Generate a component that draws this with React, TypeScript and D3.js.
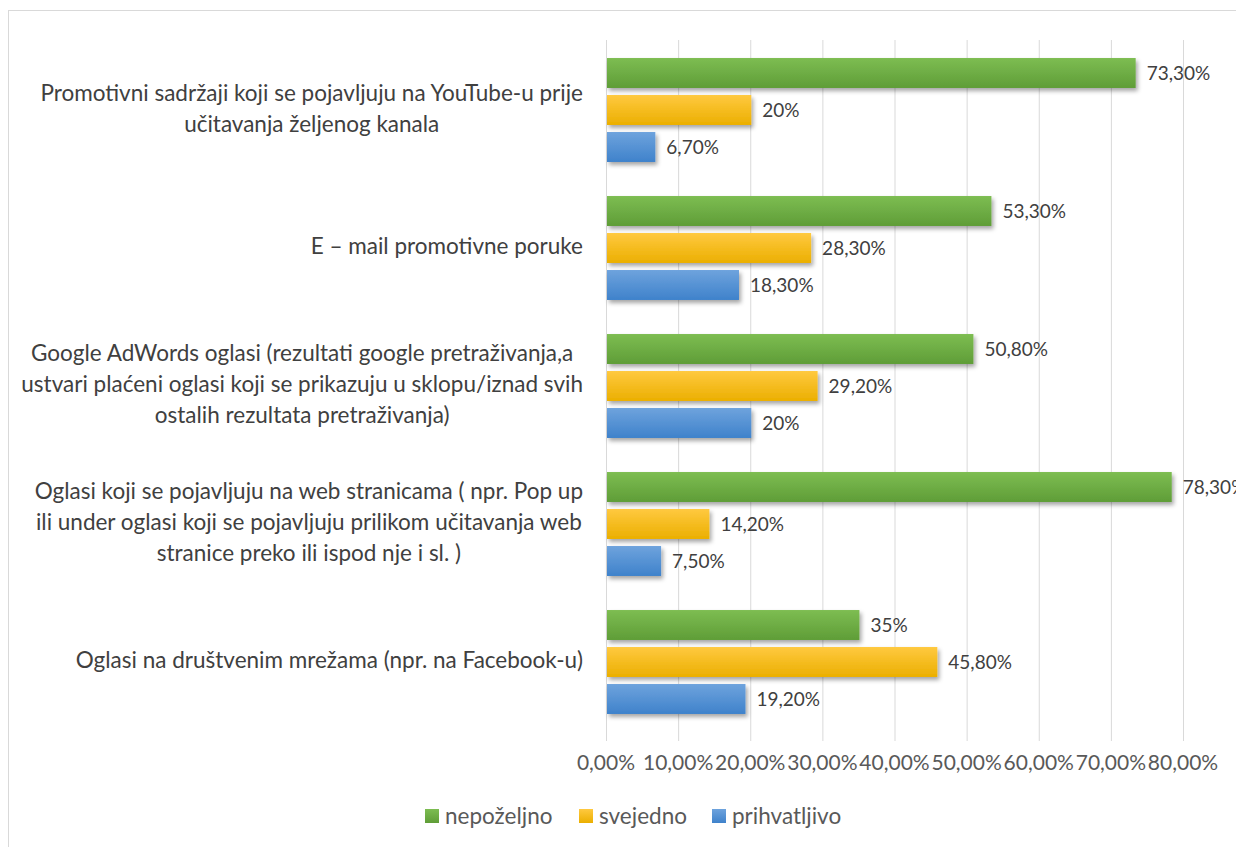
import { useEffect, useRef } from 'react';
import * as d3 from 'd3';

const categories: string[][] = [
  ['Promotivni sadržaji koji se pojavljuju na YouTube-u prije', 'učitavanja željenog kanala'],
  ['E – mail promotivne poruke'],
  [
    'Google AdWords oglasi (rezultati google pretraživanja,a',
    'ustvari plaćeni oglasi koji se prikazuju u sklopu/iznad svih',
    'ostalih rezultata pretraživanja)',
  ],
  [
    'Oglasi koji se pojavljuju na web stranicama ( npr. Pop up',
    'ili under oglasi koji se pojavljuju prilikom učitavanja web',
    'stranice preko ili ispod nje i sl. )',
  ],
  ['Oglasi na društvenim mrežama (npr. na Facebook-u)'],
];

const seriesNames = ['nepoželjno', 'svejedno', 'prihvatljivo'];
const nepozeljno = [73.3, 53.3, 50.8, 78.3, 35];
const svejedno = [20, 28.3, 29.2, 14.2, 45.8];
const prihvatljivo = [6.7, 18.3, 20, 7.5, 19.2];
const ticks = [0, 10, 20, 30, 40, 50, 60, 70, 80];

const seriesValues = [nepozeljno, svejedno, prihvatljivo];
const colors = [
  { top: '#7dbd52', bottom: '#5f9d37' },
  { top: '#ffc940', bottom: '#ebaf00' },
  { top: '#6ea3dd', bottom: '#3f82cb' },
];

const fmt = (v: number) => (Number.isInteger(v) ? `${v}%` : `${v.toFixed(2).replace('.', ',')}%`);
const tickFmt = (v: number) => `${v.toFixed(2).replace('.', ',')}%`;

const FONT = 'Lato, "Open Sans", sans-serif';

export default function App() {
  const svgRef = useRef<SVGSVGElement>(null);

  useEffect(() => {
    if (!svgRef.current) return;
    const svg = d3.select(svgRef.current);
    svg.selectAll('*').remove();

    const W = 1236;
    const H = 847;
    const plot = { left: 606, right: 1183, top: 41, bottom: 731 };

    const x = d3.scaleLinear().domain([0, 80]).range([plot.left, plot.right]);
    const y0 = d3
      .scaleBand<number>()
      .domain(d3.range(categories.length))
      .range([plot.top, plot.bottom]);
    const y1 = d3
      .scaleBand<number>()
      .domain(d3.range(seriesNames.length))
      .range([0, y0.bandwidth()])
      .paddingInner(0.19)
      .paddingOuter(0.46);

    const defs = svg.append('defs');
    colors.forEach((c, i) => {
      const lg = defs
        .append('linearGradient')
        .attr('id', `grad${i}`)
        .attr('x1', 0)
        .attr('y1', 0)
        .attr('x2', 0)
        .attr('y2', 1);
      lg.append('stop').attr('offset', '0%').attr('stop-color', c.top);
      lg.append('stop').attr('offset', '100%').attr('stop-color', c.bottom);
    });
    defs
      .append('filter')
      .attr('id', 'shadow')
      .attr('x', '-10%')
      .attr('y', '-30%')
      .attr('width', '130%')
      .attr('height', '180%')
      .append('feDropShadow')
      .attr('dx', 2)
      .attr('dy', 3)
      .attr('stdDeviation', 2)
      .attr('flood-color', '#000')
      .attr('flood-opacity', 0.35);

    svg.attr('width', W).attr('height', H);

    // chart frame
    svg
      .append('rect')
      .attr('x', 8.5)
      .attr('y', 10.5)
      .attr('width', W)
      .attr('height', H)
      .attr('fill', '#fff')
      .attr('stroke', '#d9d9d9');

    // Grid lines
    svg
      .append('g')
      .selectAll('line')
      .data(ticks)
      .enter()
      .append('line')
      .attr('x1', (d) => x(d) + 0.5)
      .attr('x2', (d) => x(d) + 0.5)
      .attr('y1', 40)
      .attr('y2', 741)
      .attr('stroke', '#d9d9d9')
      .attr('stroke-width', 1);

    // Bars
    seriesValues.forEach((vals, si) => {
      const g = svg.append('g').attr('filter', 'url(#shadow)');
      g.selectAll('rect')
        .data(vals)
        .enter()
        .append('rect')
        .attr('x', x(0) + 1)
        .attr('y', (_, i) => (y0(i) || 0) + (y1(si) || 0))
        .attr('width', (d) => x(d) - x(0))
        .attr('height', y1.bandwidth())
        .attr('fill', `url(#grad${si})`);

      svg
        .append('g')
        .selectAll('text')
        .data(vals)
        .enter()
        .append('text')
        .attr('x', (d) => x(d) + 12)
        .attr('y', (_, i) => (y0(i) || 0) + (y1(si) || 0) + y1.bandwidth() / 2)
        .attr('dy', '0.36em')
        .attr('fill', '#404040')
        .attr('font-family', FONT)
        .attr('font-size', '19px')
        .text((d) => fmt(d));
    });

    // Category labels: lines centred within a block right-aligned to the axis
    const labelRight = 583;
    const lineH = 31;
    categories.forEach((lines, i) => {
      const cy = (y0(i) || 0) + y0.bandwidth() / 2 - 2;
      const t = svg
        .append('g')
        .selectAll('text')
        .data(lines)
        .enter()
        .append('text')
        .attr('y', (_, li) => cy + (li - (lines.length - 1) / 2) * lineH)
        .attr('dy', '0.36em')
        .attr('text-anchor', 'middle')
        .attr('fill', '#404040')
        .attr('font-family', FONT)
        .attr('font-size', '22.5px')
        .text((d) => d);
      let maxW = 0;
      t.each(function () {
        maxW = Math.max(maxW, (this as SVGTextElement).getComputedTextLength());
      });
      t.attr('x', labelRight - maxW / 2);
    });

    // X axis tick labels
    svg
      .append('g')
      .selectAll('text')
      .data(ticks)
      .enter()
      .append('text')
      .attr('x', (d) => x(d))
      .attr('y', 762)
      .attr('dy', '0.36em')
      .attr('text-anchor', 'middle')
      .attr('fill', '#595959')
      .attr('font-family', FONT)
      .attr('font-size', '21px')
      .text((d) => tickFmt(d));

    // Legend
    const legendX = [425, 579, 712];
    const lg = svg.append('g');
    seriesNames.forEach((name, i) => {
      lg.append('rect')
        .attr('x', legendX[i])
        .attr('y', 809)
        .attr('width', 14)
        .attr('height', 14)
        .attr('fill', `url(#grad${i})`);
      lg.append('text')
        .attr('x', legendX[i] + 20)
        .attr('y', 816)
        .attr('dy', '0.36em')
        .attr('fill', '#595959')
        .attr('font-family', FONT)
        .attr('font-size', '22.5px')
        .text(name);
    });
  }, []);

  return (
    <div style={{ position: 'absolute', left: 0, top: 0, width: 1236, height: 847, overflow: 'hidden', background: '#fff' }}>
      <svg ref={svgRef} style={{ display: 'block' }} />
    </div>
  );
}
